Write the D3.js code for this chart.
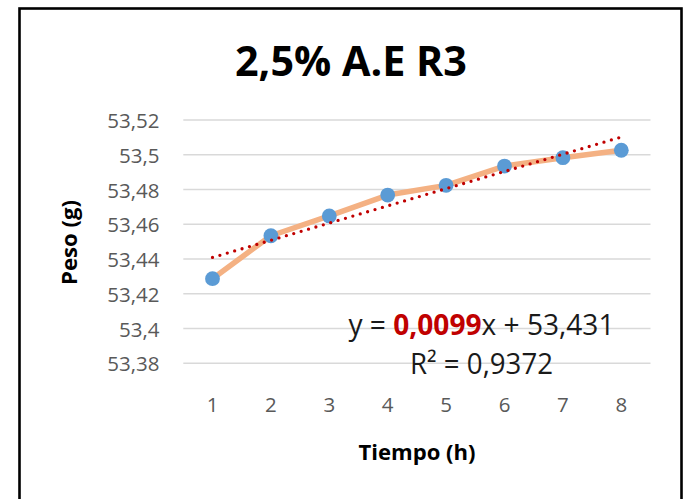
<!DOCTYPE html>
<html>
<head>
<meta charset="utf-8">
<script src="https://cdn.jsdelivr.net/npm/d3@7"></script>
<style>
  html, body { margin: 0; padding: 0; background: #fff; }
  svg { display: block; }
</style>
</head>
<body>
<svg id="chart" width="689" height="499"></svg>
<script>
// Weight of sample over time (2,5% A.E, replicate 3)
const hours = [1, 2, 3, 4, 5, 6, 7, 8];
const weights = [53.4287, 53.4534, 53.4648, 53.4768, 53.4824, 53.4935, 53.4983, 53.5026];
const yTicks = [53.38, 53.40, 53.42, 53.44, 53.46, 53.48, 53.50, 53.52];
const trendSlope = 0.0099;
const trendIntercept = 53.431;
const rSquared = "0,9372";

const titleText = "2,5% A.E R3";
const xTitle = "Tiempo (h)";
const yTitle = "Peso (g)";

const fmt = v => String(+v.toFixed(4)).replace(".", ",");

const svg = d3.select("#chart");
const plot = { left: 183.3, right: 650.5, top: 120, bottom: 363.3 };

// outer frame (bottom edge runs past the canvas)
svg.append("rect")
  .attr("x", 19.5).attr("y", 8.5)
  .attr("width", 662).attr("height", 530)
  .attr("fill", "#fff").attr("stroke", "#000").attr("stroke-width", 2.6);

const x = d3.scaleBand().domain(hours).range([plot.left, plot.right]);
const xc = d => x(d) + x.bandwidth() / 2;
const xLin = d3.scaleLinear().domain([hours[0], hours[hours.length - 1]])
  .range([xc(hours[0]), xc(hours[hours.length - 1])]);
const y = d3.scaleLinear().domain([53.38, 53.52]).range([plot.bottom, plot.top]);

// gridlines
svg.append("g").selectAll("line").data(yTicks).join("line")
  .attr("x1", plot.left).attr("x2", plot.right)
  .attr("y1", d => y(d)).attr("y2", d => y(d))
  .attr("stroke", "#D9D9D9").attr("stroke-width", 1.6);

// y tick labels
svg.append("g").selectAll("text").data(yTicks).join("text")
  .attr("x", 159.5).attr("y", d => y(d) + 8)
  .attr("text-anchor", "end")
  .attr("font-family", "'Open Sans', sans-serif")
  .attr("font-size", 20.5).attr("fill", "#595959")
  .text(d => fmt(d));

// x tick labels
svg.append("g").selectAll("text").data(hours).join("text")
  .attr("x", d => xc(d)).attr("y", 411.5)
  .attr("text-anchor", "middle")
  .attr("font-family", "'Open Sans', sans-serif")
  .attr("font-size", 20.5).attr("fill", "#595959")
  .text(d => d);

// data line
const line = d3.line().x((d, i) => xc(hours[i])).y(d => y(d));
svg.append("path").datum(weights)
  .attr("d", line)
  .attr("fill", "none").attr("stroke", "#F4B183")
  .attr("stroke-width", 5.5).attr("stroke-linejoin", "round").attr("stroke-linecap", "round");

// markers
svg.append("g").selectAll("circle").data(weights).join("circle")
  .attr("cx", (d, i) => xc(hours[i])).attr("cy", d => y(d))
  .attr("r", 7.4).attr("fill", "#5B9BD5");

// linear trendline from the stated equation
const trendPts = [hours[0], hours[hours.length - 1]].map(h => [h, trendSlope * h + trendIntercept]);
svg.append("path").datum(trendPts)
  .attr("d", d3.line().x(d => xLin(d[0])).y(d => y(d[1])))
  .attr("fill", "none").attr("stroke", "#C00000")
  .attr("stroke-width", 3.3).attr("stroke-linecap", "round")
  .attr("stroke-dasharray", "0 7.7");

// title
svg.append("text")
  .attr("x", 351).attr("y", 76)
  .attr("text-anchor", "middle")
  .attr("font-family", "'Open Sans', sans-serif")
  .attr("font-weight", 700).attr("font-size", 42)
  .attr("textLength", 232).attr("lengthAdjust", "spacingAndGlyphs")
  .attr("fill", "#000")
  .text(titleText);

// axis titles
svg.append("text")
  .attr("x", 417).attr("y", 460)
  .attr("text-anchor", "middle")
  .attr("font-family", "'Open Sans', sans-serif")
  .attr("font-weight", 700).attr("font-size", 22)
  .attr("textLength", 117).attr("lengthAdjust", "spacingAndGlyphs")
  .attr("fill", "#000")
  .text(xTitle);

svg.append("text")
  .attr("transform", "translate(77,242.5) rotate(-90)")
  .attr("text-anchor", "middle")
  .attr("font-family", "'Open Sans', sans-serif")
  .attr("font-weight", 700).attr("font-size", 22)
  .attr("textLength", 85).attr("lengthAdjust", "spacingAndGlyphs")
  .attr("fill", "#000")
  .text(yTitle);

// trendline equation
const eq = svg.append("text")
  .attr("x", 481.5).attr("y", 335)
  .attr("text-anchor", "middle")
  .attr("font-family", "'Open Sans', sans-serif")
  .attr("font-size", 28.5).attr("fill", "#1a1a1a")
  .attr("textLength", 266).attr("lengthAdjust", "spacingAndGlyphs");
eq.append("tspan").text("y = ");
eq.append("tspan").attr("font-weight", 700).attr("fill", "#C00000").text(fmt(trendSlope));
eq.append("tspan").text("x + " + fmt(trendIntercept));

svg.append("text")
  .attr("x", 481.5).attr("y", 374)
  .attr("text-anchor", "middle")
  .attr("font-family", "'Open Sans', sans-serif")
  .attr("font-size", 28.5).attr("fill", "#1a1a1a")
  .attr("textLength", 143).attr("lengthAdjust", "spacingAndGlyphs")
  .text("R² = " + rSquared);
</script>
</body>
</html>
